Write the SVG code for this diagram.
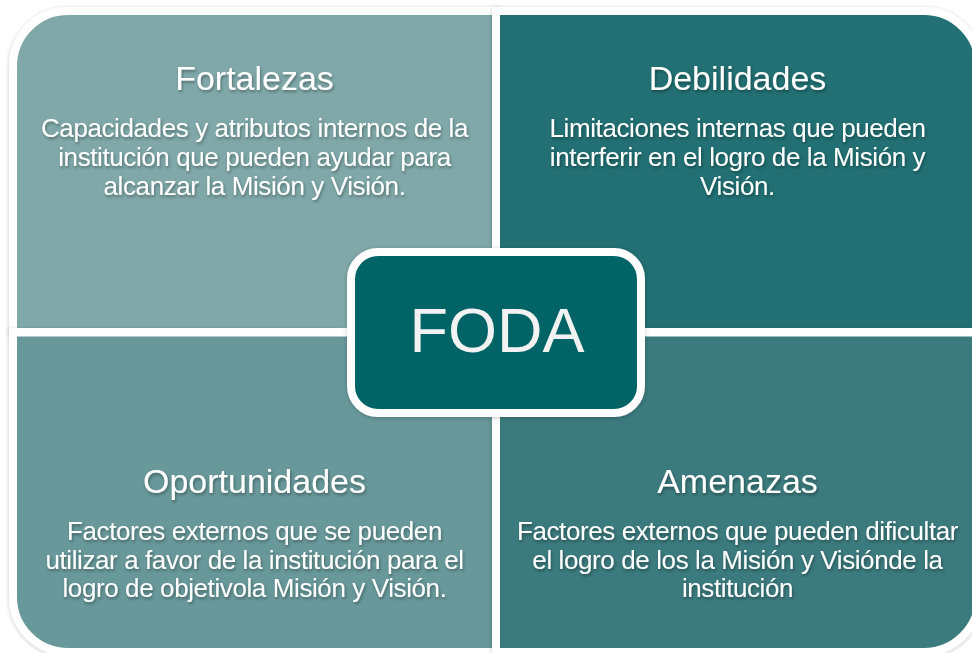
<svg xmlns="http://www.w3.org/2000/svg" width="972" height="653" viewBox="0 0 972 653">
  <defs>
    <filter id="boxShadow" x="-10%" y="-10%" width="120%" height="120%">
      <feDropShadow dx="0" dy="1" stdDeviation="2" flood-color="#000" flood-opacity="0.22"/>
    </filter>
    <filter id="textShadow" x="-10%" y="-30%" width="120%" height="160%">
      <feDropShadow dx="1" dy="2" stdDeviation="1.5" flood-color="#000" flood-opacity="0.35"/>
    </filter>
  </defs>
  <style>
    .quad { stroke: #ffffff; stroke-width: 8; filter: url(#boxShadow); }
    .title { font-family: "Liberation Sans", Arial, sans-serif; font-size: 34px; fill: #ffffff; text-anchor: middle; filter: url(#textShadow); }
    .body { font-family: "Liberation Sans", Arial, sans-serif; font-size: 26px; letter-spacing: -0.4px; fill: #ffffff; text-anchor: middle; filter: url(#textShadow); }
    .center { font-family: "Liberation Sans", Arial, sans-serif; font-size: 63px; fill: #f2f2f2; text-anchor: middle; }
  </style>
  <rect x="0" y="0" width="972" height="653" fill="#ffffff"/>

  <g id="fortalezas">
    <path class="quad" fill="#80a8a9" d="M13,332 L13,66 A55,55 0 0 1 68,11 L496,11 L496,332 Z"/>
    <text class="title" x="254.5" y="90">Fortalezas</text>
    <text class="body" x="254.5" y="137">Capacidades y atributos internos de la</text>
    <text class="body" x="254.5" y="166">institución que pueden ayudar para</text>
    <text class="body" x="254.5" y="195">alcanzar la Misión y Visión.</text>
  </g>

  <g id="debilidades">
    <path class="quad" fill="#246f73" d="M496,11 L924,11 A55,55 0 0 1 979,66 L979,332 L496,332 Z"/>
    <text class="title" x="737.5" y="90">Debilidades</text>
    <text class="body" x="737.5" y="137">Limitaciones internas que pueden</text>
    <text class="body" x="737.5" y="166">interferir en el logro de la Misión y</text>
    <text class="body" x="737.5" y="195">Visión.</text>
  </g>

  <g id="oportunidades">
    <path class="quad" fill="#67989a" d="M13,332.5 L496,332.5 L496,652 L68,652 A55,55 0 0 1 13,597 Z"/>
    <text class="title" x="254.5" y="493">Oportunidades</text>
    <text class="body" x="254.5" y="540">Factores externos que se pueden</text>
    <text class="body" x="254.5" y="568.5">utilizar a favor de la institución para el</text>
    <text class="body" x="254.5" y="597">logro de objetivola Misión y Visión.</text>
  </g>

  <g id="amenazas">
    <path class="quad" fill="#3a7a7d" d="M496,332.5 L979,332.5 L979,597 A55,55 0 0 1 924,652 L496,652 Z"/>
    <text class="title" x="737.5" y="493">Amenazas</text>
    <text class="body" x="737.5" y="540">Factores externos que pueden dificultar</text>
    <text class="body" x="737.5" y="568.5">el logro de los la Misión y Visiónde la</text>
    <text class="body" x="737.5" y="597">institución</text>
  </g>

  <g id="connectors"></g>

  <g id="foda">
    <rect class="quad" x="351" y="252" width="290" height="161" rx="27" ry="27" fill="#006365"/>
    <text class="center" x="497" y="352">FODA</text>
  </g>
</svg>
